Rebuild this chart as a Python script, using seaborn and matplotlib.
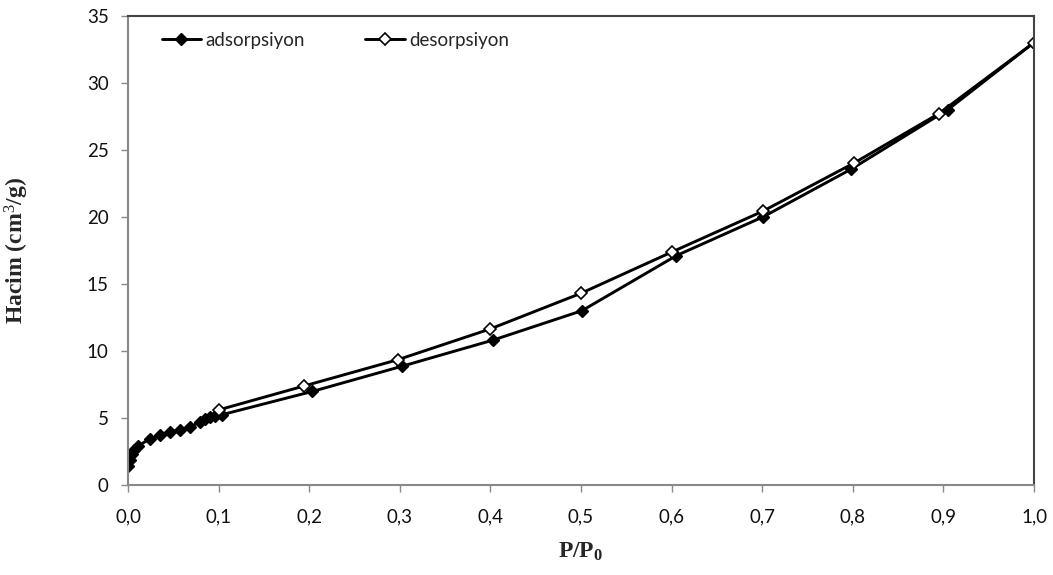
import matplotlib
matplotlib.use("Agg")
import matplotlib.pyplot as plt
import seaborn as sns
import pandas as pd

# Isotherm data (relative pressure vs. adsorbed volume)
ads_p = [0.0005, 0.002, 0.004, 0.007, 0.011, 0.024, 0.035, 0.046, 0.057, 0.068,
         0.079, 0.085, 0.090, 0.096, 0.104, 0.2035, 0.302, 0.403, 0.501, 0.605,
         0.701, 0.798, 0.905, 1.0]
ads_v = [1.4, 1.9, 2.3, 2.6, 2.9, 3.45, 3.7, 3.95, 4.1, 4.3,
         4.7, 4.95, 5.05, 5.15, 5.25, 6.98, 8.85, 10.81, 13.0, 17.1,
         20.0, 23.55, 28.0, 33.0]
des_p = [1.0, 0.895, 0.801, 0.701, 0.600, 0.500, 0.399, 0.298, 0.194, 0.100]
des_v = [33.0, 27.7, 24.0, 20.43, 17.37, 14.3, 11.62, 9.35, 7.38, 5.6]

series_names = ["adsorpsiyon", "desorpsiyon"]
x_ticks = [0.0, 0.1, 0.2, 0.3, 0.4, 0.5, 0.6, 0.7, 0.8, 0.9, 1.0]
y_ticks = [0, 5, 10, 15, 20, 25, 30, 35]

sns.set_theme(style="white")
plt.rcParams["font.family"] = ["Lato", "DejaVu Sans"]
plt.rcParams["mathtext.fontset"] = "custom"
plt.rcParams["mathtext.rm"] = "Liberation Serif"
plt.rcParams["mathtext.bf"] = "Liberation Serif:bold"
plt.rcParams["mathtext.it"] = "Liberation Serif:italic"

fig = plt.figure(figsize=(10.53, 5.75), dpi=100)
ax = fig.add_axes([0.1216, 0.1565, 0.8604, 0.8162])

ads_df = pd.DataFrame({"p": ads_p, "v": ads_v})
des_df = pd.DataFrame({"p": des_p, "v": des_v})

sns.lineplot(data=ads_df, x="p", y="v", ax=ax, sort=False, color="black",
             linewidth=2.1, marker="D", markersize=6.5, markerfacecolor="black",
             markeredgecolor="black", markeredgewidth=1.0, label=series_names[0])
sns.lineplot(data=des_df, x="p", y="v", ax=ax, sort=False, color="black",
             linewidth=2.1, marker="D", markersize=6.5, markerfacecolor="white",
             markeredgecolor="black", markeredgewidth=1.2, label=series_names[1])

ax.set_xlim(0, 1.0)
ax.set_ylim(0, 35)
ax.set_xticks(x_ticks)
ax.set_yticks(y_ticks)
ax.set_xticklabels([f"{t:.1f}".replace(".", ",") for t in x_ticks], fontsize=13.5,
                   color="#111111")
ax.set_yticklabels([str(t) for t in y_ticks], fontsize=13.5, color="#111111")
ax.tick_params(axis="x", which="major", direction="out", length=5, width=1,
               color="#888888", bottom=True, pad=12)
ax.tick_params(axis="y", which="major", direction="out", length=5, width=1,
               color="#888888", left=True, pad=9)

for side in ["left", "bottom"]:
    ax.spines[side].set_color("#888888")
    ax.spines[side].set_linewidth(1.5)
for side in ["top", "right"]:
    ax.spines[side].set_color("#444444")
    ax.spines[side].set_linewidth(1.5)

ax.set_xlabel(r"P/P$_\mathbf{0}$", fontsize=17, fontweight="bold",
              family="Liberation Serif")
ax.xaxis.set_label_coords(0.5, -0.118)
ax.set_ylabel(r"Hacim (cm$^\mathrm{3}$/g)", fontsize=17, fontweight="bold",
              family="Liberation Serif")
ax.yaxis.set_label_coords(-0.107, 0.5)

leg = ax.legend(loc="upper left", bbox_to_anchor=(0.037, 0.966), ncol=2,
                frameon=False, fontsize=13.5, handlelength=2.1, handletextpad=0.25,
                columnspacing=3.2, borderpad=0, borderaxespad=0)

fig.savefig("out.png", dpi=100)
